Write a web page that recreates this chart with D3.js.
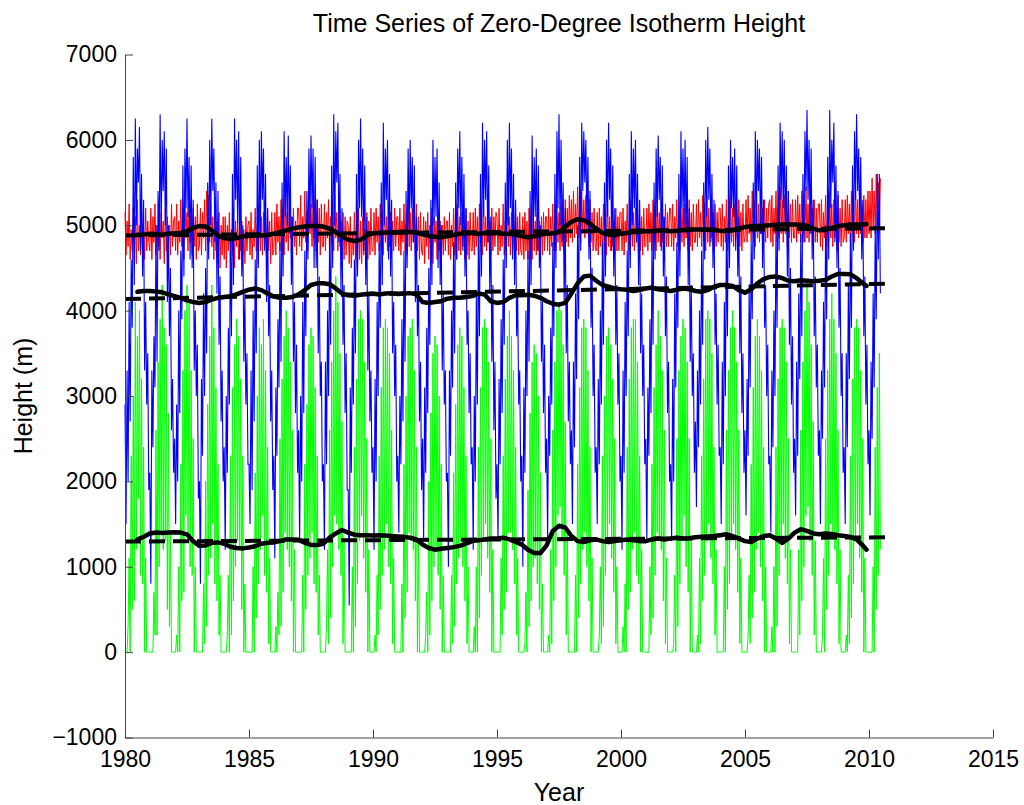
<!DOCTYPE html>
<html>
<head>
<meta charset="utf-8">
<script src="https://cdn.jsdelivr.net/npm/d3@7"></script>
<style>
	body { margin: 0; background: #fff; }
	svg { display: block; font-family: "Liberation Sans", Arial, Helvetica, sans-serif; }
</style>
</head>
<body>
<div id="chart"></div>
<script>
// ticks
const xTicks = [1980, 1985, 1990, 1995, 2000, 2005, 2010, 2015];
const yTicks = [-1000, 0, 1000, 2000, 3000, 4000, 5000, 6000, 7000];

// half-monthly heights (m), one row per year from 1980, last row ends mid 2010
const blueByYear = [
	[2900, 1500, 3300, 2000, 4100, 2700, 4600, 3800, 5800, 4300, 6250, 5000, 5900, 5500, 6150, 4700, 5600, 4400, 5300, 3300, 4100, 2900, 3500, 1900],
	[2100, 800, 3300, 2400, 3700, 3100, 5000, 3400, 5400, 4700, 6300, 4900, 6000, 5400, 6100, 5000, 5900, 4100, 5000, 3700, 4500, 2600, 3200, 2100],
	[2500, 1500, 2900, 2000, 4000, 2800, 4700, 3900, 5700, 4400, 5900, 5200, 6250, 5100, 5800, 4600, 5700, 4500, 5300, 3300, 4000, 3000, 3600, 1800],
	[2000, 800, 3200, 2300, 4200, 3000, 4500, 3500, 5500, 4600, 6000, 5000, 6250, 5400, 5900, 4800, 5500, 4200, 5400, 3600, 4400, 2700, 3300, 2000],
	[2400, 1200, 3000, 2100, 3800, 2900, 4900, 3700, 5600, 4300, 6250, 5300, 6000, 5000, 6100, 4600, 5800, 4400, 5000, 3400, 4200, 2900, 3500, 2200],
	[2200, 1500, 3300, 1900, 4000, 2700, 4600, 3500, 5700, 4500, 6000, 4900, 6100, 5300, 5900, 4700, 5600, 4100, 5200, 3700, 4300, 2700, 3300, 1900],
	[2300, 1100, 3100, 2300, 3900, 3100, 4800, 3400, 5500, 4400, 6100, 5100, 5800, 5000, 6050, 4900, 5700, 4300, 5100, 3400, 4100, 2800, 3600, 2100],
	[2600, 1300, 3000, 2000, 4100, 2800, 4700, 3700, 5400, 4600, 5900, 5000, 6050, 5200, 5900, 4500, 5800, 4500, 5300, 3500, 4400, 3000, 3400, 2000],
	[2200, 1200, 3400, 2200, 4000, 3000, 4900, 3600, 5700, 4500, 6300, 5000, 6100, 5500, 6200, 4800, 5600, 4200, 5200, 3600, 4300, 2800, 3500, 1900],
	[1900, 550, 3100, 2100, 3800, 2900, 4600, 3500, 5600, 4400, 6000, 5200, 6250, 5100, 5900, 4700, 5700, 4300, 5100, 3300, 4200, 2700, 3300, 2100],
	[2400, 1200, 3200, 2000, 4100, 3000, 4800, 3800, 5500, 4300, 6200, 5000, 5900, 5300, 6000, 4600, 5600, 4400, 5300, 3500, 4100, 3000, 3600, 2000],
	[2300, 1400, 3000, 2200, 3900, 2700, 4700, 3400, 5400, 4500, 5900, 4900, 6000, 5200, 5800, 4800, 5700, 4100, 5100, 3700, 4300, 2700, 3400, 1900],
	[2500, 1300, 3100, 2100, 3800, 2800, 4500, 3600, 5300, 4300, 6000, 5000, 5800, 5100, 5900, 4500, 5500, 4300, 5000, 3300, 4200, 2900, 3300, 2000],
	[2100, 1000, 3300, 2300, 4000, 3100, 4800, 3500, 5500, 4600, 5900, 5200, 6100, 5000, 5800, 4700, 5600, 4400, 5200, 3600, 4000, 2800, 3500, 2200],
	[2400, 1200, 3000, 2000, 4200, 2900, 4900, 3700, 5600, 4400, 6200, 5100, 6000, 5300, 6100, 4800, 5700, 4200, 5100, 3400, 4300, 2600, 3400, 1800],
	[2200, 1300, 3200, 2200, 3900, 2800, 4600, 3600, 5500, 4500, 6000, 5000, 6200, 5200, 5900, 4600, 5600, 4300, 5300, 3700, 4200, 2900, 3300, 2000],
	[2300, 1000, 3100, 2100, 4000, 3000, 4700, 3400, 5400, 4300, 6050, 4900, 5800, 5100, 5900, 4700, 5700, 4500, 5000, 3400, 4100, 2800, 3600, 2100],
	[2500, 1300, 3000, 2300, 3800, 2900, 4800, 3700, 5600, 4500, 6100, 5200, 6300, 5000, 6000, 4800, 5500, 4100, 5200, 3500, 4300, 2700, 3400, 2200],
	[2600, 1500, 3400, 2400, 4200, 3200, 5000, 3900, 5800, 4700, 6200, 5400, 6100, 5500, 6000, 5000, 5800, 4600, 5400, 3800, 4500, 3000, 3600, 2100],
	[2400, 1500, 3200, 2200, 4000, 2900, 4800, 3600, 5500, 4400, 6000, 5100, 6200, 5300, 5900, 4700, 5700, 4400, 5200, 3600, 4300, 2900, 3500, 2000],
	[2300, 1200, 3300, 2100, 4100, 3000, 4700, 3700, 5600, 4500, 6100, 5000, 5900, 5200, 6000, 4800, 5600, 4300, 5300, 3500, 4200, 3000, 3600, 2200],
	[2500, 1300, 3100, 2300, 3900, 2800, 4900, 3600, 5500, 4600, 5900, 5100, 6050, 5300, 5800, 4700, 5700, 4400, 5100, 3700, 4400, 2800, 3400, 2000],
	[2200, 1300, 3200, 2000, 4200, 3100, 4800, 3800, 5600, 4400, 6100, 5200, 5900, 5000, 6000, 4900, 5800, 4300, 5200, 3400, 4300, 3000, 3500, 2100],
	[2700, 1700, 3300, 2400, 4000, 2900, 4700, 3600, 5500, 4600, 6000, 5100, 6150, 5300, 5900, 4800, 5600, 4500, 5300, 3600, 4200, 2900, 3600, 2300],
	[2400, 1500, 3400, 2200, 4100, 3000, 4900, 3700, 5700, 4500, 6000, 5200, 5800, 5100, 5900, 4700, 5700, 4400, 5100, 3500, 4400, 2800, 3500, 2100],
	[2600, 1600, 3200, 2300, 4300, 3100, 4800, 3900, 5500, 4600, 6100, 5000, 6000, 5400, 5900, 4900, 5800, 4500, 5300, 3800, 4300, 3000, 3600, 2200],
	[2300, 1400, 3300, 2400, 4000, 3000, 5000, 3800, 5700, 4700, 6200, 5300, 6100, 5200, 6000, 5000, 5700, 4400, 5400, 3600, 4500, 2900, 3700, 2100],
	[2500, 1600, 3400, 2300, 4200, 3200, 4900, 3700, 5600, 4800, 6100, 5400, 6350, 5300, 6000, 4900, 5900, 4600, 5300, 3700, 4400, 3100, 3600, 2300],
	[2600, 1500, 3300, 2500, 4100, 3100, 5000, 3900, 5800, 4600, 6350, 5200, 6000, 5500, 6200, 4800, 5700, 4500, 5400, 3800, 4500, 3000, 3500, 2100],
	[2400, 1500, 3500, 2400, 4300, 3200, 4900, 3800, 5700, 4700, 6100, 5300, 6300, 5400, 5900, 5000, 5800, 4600, 5300, 3700, 4400, 2900, 3600, 2200],
	[2600, 1600, 3400, 2500, 4200, 3100, 5000, 3900, 5600, 4600, 5600, 4200]
];

const redByYear = [
	[5150, 4650, 5050, 4750, 5250, 4600, 4950, 4700, 5200, 4800, 5100, 4550, 5300, 4700, 5000, 4650, 5150, 4750, 4950, 4600, 5200, 4700, 5050, 4800],
	[4700, 5200, 4600, 5100, 4800, 5250, 4650, 5000, 4750, 5300, 4600, 5150, 4850, 5050, 4550, 5200, 4700, 5100, 4800, 5000, 4650, 5250, 4750, 5050],
	[5100, 4700, 5250, 4650, 5050, 4800, 5300, 4750, 5000, 4600, 5350, 4850, 5150, 4700, 5400, 4800, 5050, 4650, 5200, 4750, 5100, 4600, 5250, 4700],
	[4750, 5200, 4650, 5150, 4850, 5300, 4700, 5400, 4900, 5350, 4800, 5250, 4750, 5100, 4600, 5200, 4700, 5050, 4550, 5150, 4500, 5000, 4650, 5100],
	[4600, 5100, 4500, 5000, 4700, 5150, 4550, 4950, 4650, 5200, 4500, 5050, 4750, 5000, 4600, 5150, 4700, 5050, 4650, 4950, 4550, 5100, 4700, 5000],
	[5050, 4650, 5150, 4600, 4950, 4750, 5200, 4700, 5000, 4550, 5250, 4700, 5100, 4650, 5150, 4750, 4950, 4600, 5200, 4700, 5050, 4550, 5150, 4650],
	[4700, 5150, 4650, 5250, 4800, 5100, 4700, 5300, 4750, 5200, 4650, 5350, 4800, 5150, 4700, 5250, 4850, 5100, 4700, 5200, 4750, 5050, 4650, 5200],
	[5200, 4750, 5350, 4700, 5100, 4850, 5400, 4800, 5150, 4700, 5300, 4900, 5250, 4750, 5350, 4850, 5100, 4700, 5300, 4800, 5200, 4650, 5250, 4750],
	[4750, 5250, 4700, 5150, 4850, 5300, 4650, 5100, 4800, 5250, 4700, 5350, 4850, 5150, 4700, 5200, 4750, 5050, 4650, 5150, 4600, 5100, 4650, 5050],
	[5000, 4550, 5100, 4500, 4900, 4650, 5150, 4600, 4950, 4450, 5200, 4600, 5050, 4550, 5100, 4650, 4950, 4500, 5150, 4600, 5050, 4650, 5200, 4700],
	[4700, 5150, 4650, 5200, 4800, 5100, 4700, 5250, 4750, 5150, 4650, 5300, 4800, 5100, 4700, 5200, 4750, 5150, 4650, 5050, 4700, 5200, 4750, 5100],
	[5100, 4700, 5200, 4650, 5050, 4800, 5250, 4700, 5000, 4650, 5300, 4750, 5150, 4700, 5200, 4800, 5050, 4650, 5250, 4700, 5100, 4600, 5150, 4700],
	[4650, 5100, 4550, 5050, 4750, 5150, 4600, 5000, 4700, 5200, 4550, 5100, 4800, 5050, 4600, 5150, 4700, 5050, 4600, 5000, 4650, 5100, 4700, 5050],
	[5050, 4650, 5150, 4600, 5000, 4750, 5200, 4650, 5000, 4600, 5250, 4700, 5100, 4650, 5150, 4750, 5000, 4600, 5200, 4650, 5050, 4600, 5150, 4700],
	[4700, 5150, 4650, 5200, 4750, 5100, 4700, 5250, 4800, 5150, 4650, 5300, 4750, 5100, 4700, 5150, 4800, 5050, 4650, 5200, 4700, 5100, 4750, 5150],
	[5100, 4650, 5200, 4700, 5000, 4750, 5250, 4650, 5050, 4700, 5300, 4750, 5100, 4650, 5150, 4700, 5050, 4600, 5200, 4700, 5100, 4650, 5150, 4700],
	[4650, 5100, 4600, 5150, 4700, 5050, 4600, 5200, 4750, 5100, 4600, 5250, 4700, 5050, 4650, 5150, 4700, 5050, 4600, 5100, 4650, 5150, 4700, 5100],
	[5100, 4700, 5200, 4650, 5100, 4750, 5250, 4700, 5050, 4700, 5300, 4800, 5150, 4700, 5250, 4750, 5100, 4700, 5300, 4800, 5200, 4750, 5350, 4850],
	[5300, 4800, 5400, 4850, 5250, 4900, 5450, 4850, 5200, 4800, 5400, 4900, 5300, 4850, 5350, 4900, 5200, 4750, 5300, 4800, 5150, 4700, 5200, 4750],
	[4700, 5150, 4650, 5200, 4750, 5100, 4650, 5250, 4800, 5150, 4650, 5300, 4750, 5100, 4700, 5150, 4750, 5050, 4650, 5200, 4700, 5100, 4700, 5150],
	[5150, 4700, 5200, 4650, 5050, 4800, 5250, 4700, 5050, 4650, 5300, 4750, 5150, 4700, 5200, 4800, 5050, 4650, 5250, 4700, 5100, 4650, 5200, 4750],
	[4750, 5200, 4700, 5250, 4800, 5150, 4700, 5300, 4800, 5200, 4700, 5350, 4800, 5150, 4750, 5200, 4800, 5100, 4700, 5250, 4750, 5150, 4750, 5200],
	[5200, 4750, 5250, 4700, 5100, 4850, 5300, 4750, 5100, 4700, 5350, 4800, 5200, 4750, 5250, 4850, 5100, 4700, 5300, 4750, 5150, 4700, 5250, 4800],
	[4800, 5250, 4750, 5300, 4850, 5150, 4750, 5350, 4850, 5250, 4700, 5350, 4800, 5200, 4750, 5250, 4850, 5150, 4700, 5250, 4750, 5150, 4800, 5200],
	[5200, 4750, 5250, 4700, 5100, 4800, 5300, 4700, 5100, 4750, 5350, 4800, 5200, 4750, 5250, 4850, 5100, 4700, 5300, 4750, 5150, 4700, 5250, 4800],
	[4850, 5300, 4800, 5350, 4900, 5200, 4800, 5400, 4900, 5300, 4750, 5400, 4850, 5250, 4800, 5300, 4900, 5200, 4750, 5300, 4800, 5200, 4850, 5250],
	[5300, 4800, 5350, 4750, 5200, 4900, 5400, 4800, 5200, 4850, 5450, 4900, 5300, 4800, 5350, 4900, 5200, 4750, 5400, 4850, 5250, 4800, 5300, 4850],
	[4850, 5300, 4800, 5350, 4900, 5250, 4800, 5400, 4900, 5300, 4800, 5450, 4850, 5250, 4800, 5300, 4900, 5200, 4750, 5300, 4800, 5200, 4800, 5250],
	[5250, 4750, 5300, 4700, 5150, 4850, 5350, 4750, 5150, 4800, 5400, 4850, 5250, 4750, 5300, 4850, 5150, 4700, 5350, 4800, 5200, 4750, 5300, 4800],
	[4850, 5300, 4800, 5350, 4900, 5250, 4800, 5400, 4950, 5300, 4800, 5450, 4900, 5300, 4850, 5350, 4900, 5250, 4800, 5350, 4850, 5300, 4850, 5400],
	[4900, 5400, 4850, 5550, 4950, 5400, 4900, 5600, 5000, 5500, 4950, 5550]
];

const greenByYear = [
	[0, 0, 0, 300, 1100, 0, 2300, 500, 3000, 600, 4100, 1200, 3700, 1800, 4000, 900, 3200, 800, 2400, 0, 1100, 0, 0, 0],
	[0, 0, 0, 0, 700, 200, 2600, 200, 3400, 1000, 3900, 1400, 4300, 1200, 3800, 1300, 3600, 500, 2800, 300, 1400, 0, 0, 0],
	[0, 0, 200, 0, 1000, 0, 2200, 600, 3300, 700, 4000, 1600, 4300, 1300, 4100, 1000, 3300, 900, 2500, 0, 1000, 0, 0, 0],
	[0, 0, 0, 0, 800, 100, 2000, 300, 2900, 900, 3700, 1100, 4300, 1500, 3800, 800, 3100, 600, 2200, 200, 900, 0, 0, 0],
	[0, 0, 0, 200, 900, 0, 2300, 200, 3100, 600, 3600, 1000, 3900, 1300, 3700, 1200, 3200, 500, 2300, 0, 800, 0, 0, 0],
	[0, 0, 0, 0, 1000, 0, 2100, 400, 3000, 800, 3800, 1200, 3600, 1600, 3900, 900, 3300, 700, 2400, 100, 1100, 0, 0, 0],
	[0, 0, 300, 0, 700, 200, 2500, 300, 3200, 700, 3700, 1400, 4000, 1200, 3800, 1000, 3400, 600, 2600, 0, 1200, 0, 0, 0],
	[0, 0, 0, 0, 900, 0, 2200, 500, 2900, 900, 3600, 1100, 3800, 1400, 3700, 800, 3100, 700, 2300, 200, 900, 0, 0, 0],
	[0, 0, 0, 300, 1200, 100, 2600, 400, 3400, 1000, 4000, 1600, 4400, 1500, 4100, 1200, 3500, 900, 2700, 100, 1300, 0, 0, 0],
	[0, 0, 0, 0, 1000, 0, 2400, 300, 3200, 800, 3900, 1300, 4000, 1600, 3900, 1100, 3400, 700, 2500, 0, 1200, 0, 0, 0],
	[0, 0, 200, 0, 900, 200, 2300, 500, 3100, 900, 3800, 1200, 3900, 1500, 3800, 1000, 3500, 800, 2600, 100, 1100, 0, 0, 0],
	[0, 0, 0, 0, 800, 0, 2200, 400, 3000, 700, 3700, 1400, 3800, 1300, 3900, 1200, 3300, 600, 2400, 0, 1300, 0, 0, 0],
	[0, 0, 0, 200, 700, 0, 2000, 200, 2800, 600, 3500, 1000, 3700, 1200, 3600, 900, 3000, 500, 2200, 0, 900, 0, 0, 0],
	[0, 0, 0, 0, 900, 100, 2100, 300, 2900, 800, 3600, 1100, 3800, 1300, 3700, 1000, 3100, 600, 2300, 100, 1000, 0, 0, 0],
	[0, 0, 300, 0, 1000, 0, 2400, 400, 3100, 900, 3800, 1300, 3900, 1500, 3800, 1100, 3400, 700, 2500, 0, 1200, 0, 0, 0],
	[0, 0, 0, 0, 1100, 200, 2300, 500, 3200, 700, 3700, 1400, 4000, 1400, 3700, 1200, 3300, 800, 2400, 200, 1100, 0, 0, 0],
	[0, 0, 0, 100, 700, 0, 1900, 300, 2800, 600, 3400, 1000, 3600, 1100, 3500, 800, 3000, 500, 2100, 0, 800, 0, 0, 0],
	[0, 0, 200, 0, 1200, 100, 2600, 600, 3400, 1000, 4000, 1600, 4100, 1700, 4000, 1300, 3600, 900, 2700, 200, 1400, 0, 0, 0],
	[0, 0, 0, 0, 900, 0, 2200, 400, 3100, 800, 3800, 1200, 3900, 1400, 3800, 1000, 3300, 600, 2400, 0, 1100, 0, 0, 0],
	[0, 0, 0, 200, 1000, 100, 2300, 300, 3000, 900, 3700, 1300, 3800, 1500, 3600, 1100, 3200, 700, 2500, 100, 1000, 0, 0, 0],
	[0, 0, 300, 0, 800, 0, 2400, 500, 3200, 700, 3800, 1200, 3900, 1400, 3900, 900, 3400, 800, 2300, 0, 1200, 0, 0, 0],
	[0, 0, 0, 0, 1000, 200, 2200, 400, 3100, 900, 3600, 1400, 4000, 1300, 3700, 1200, 3300, 600, 2600, 100, 1100, 0, 0, 0],
	[0, 0, 0, 100, 900, 0, 2500, 300, 3300, 800, 3700, 1300, 3900, 1600, 3800, 1000, 3400, 700, 2500, 0, 1300, 0, 0, 0],
	[0, 0, 200, 0, 1100, 100, 2300, 600, 3200, 900, 3900, 1300, 4000, 1500, 3900, 1100, 3500, 800, 2400, 200, 1200, 0, 0, 0],
	[0, 0, 0, 0, 1000, 0, 2600, 500, 3300, 800, 3800, 1400, 4000, 1500, 3800, 1200, 3400, 700, 2600, 100, 1100, 0, 0, 0],
	[0, 0, 0, 200, 900, 100, 2200, 400, 3100, 700, 3700, 1200, 3900, 1400, 3700, 1000, 3300, 600, 2400, 0, 1000, 0, 0, 0],
	[0, 0, 300, 0, 1000, 0, 2400, 300, 3200, 900, 3800, 1300, 3900, 1500, 3800, 1100, 3400, 800, 2500, 100, 1200, 0, 0, 0],
	[0, 0, 0, 0, 1200, 200, 2600, 600, 3400, 1000, 4000, 1600, 4300, 1700, 4100, 1300, 3600, 900, 2700, 200, 1300, 0, 0, 0],
	[0, 0, 0, 200, 1100, 0, 2500, 500, 3300, 900, 3900, 1500, 4200, 1400, 3900, 1200, 3500, 800, 2600, 100, 1200, 0, 0, 0],
	[0, 0, 200, 0, 900, 100, 2300, 400, 3200, 800, 3800, 1300, 3900, 1500, 3800, 1100, 3300, 700, 2500, 0, 1100, 0, 0, 0],
	[0, 0, 0, 0, 1000, 0, 2400, 500, 3100, 900, 3500, 1200]
];

// running means (thick black), quarterly from 1980.5, last point 2009.9
const upperMeanByYear = [
	[4890, 4890],
	[4900, 4895, 4890, 4900], [4905, 4910, 4930, 4970], [4990, 4985, 4940, 4880],
	[4850, 4835, 4850, 4870], [4875, 4880, 4880, 4885], [4900, 4920, 4940, 4960],
	[4975, 4985, 4990, 4990], [4985, 4960, 4920, 4870], [4830, 4815, 4830, 4880],
	[4905, 4910, 4915, 4915], [4920, 4925, 4920, 4915], [4895, 4875, 4865, 4860],
	[4870, 4885, 4900, 4905], [4905, 4900, 4905, 4905], [4905, 4900, 4900, 4890],
	[4870, 4860, 4870, 4890], [4900, 4905, 4920, 4980], [5040, 5070, 5060, 5020],
	[4960, 4910, 4890, 4885], [4900, 4910, 4920, 4925], [4930, 4930, 4935, 4935],
	[4930, 4935, 4945, 4950], [4950, 4950, 4950, 4945], [4935, 4930, 4940, 4960],
	[4980, 4990, 4990, 4995], [5000, 5005, 5010, 5010], [5010, 5005, 4995, 4960],
	[4940, 4945, 4970, 4990], [5000, 5010, 5010, 5010, 5015]
];
const middleMeanByYear = [
	[4220, 4230],
	[4230, 4225, 4215, 4190], [4170, 4150, 4120, 4100], [4090, 4100, 4130, 4150],
	[4160, 4170, 4190, 4220], [4245, 4260, 4240, 4200], [4165, 4150, 4150, 4160],
	[4190, 4240, 4300, 4320], [4320, 4310, 4260, 4200], [4180, 4175, 4185, 4195],
	[4200, 4190, 4200, 4205], [4195, 4200, 4205, 4190], [4100, 4090, 4100, 4110],
	[4140, 4150, 4150, 4160], [4170, 4200, 4190, 4110], [4090, 4100, 4150, 4180],
	[4180, 4185, 4175, 4150], [4110, 4080, 4070, 4090], [4200, 4320, 4400, 4410],
	[4350, 4300, 4280, 4260], [4250, 4245, 4230, 4240], [4260, 4270, 4250, 4240],
	[4230, 4245, 4260, 4250], [4230, 4220, 4240, 4280], [4300, 4300, 4290, 4240],
	[4210, 4250, 4320, 4370], [4395, 4400, 4380, 4350], [4345, 4355, 4350, 4345],
	[4350, 4360, 4400, 4430], [4430, 4425, 4380, 4320, 4290]
];
const lowerMeanByYear = [
	[1320, 1350],
	[1390, 1400, 1395, 1400], [1405, 1400, 1380, 1300], [1245, 1250, 1280, 1285],
	[1270, 1235, 1220, 1215], [1225, 1240, 1270, 1280], [1285, 1300, 1320, 1320],
	[1315, 1280, 1255, 1255], [1270, 1340, 1390, 1430], [1400, 1375, 1370, 1370],
	[1365, 1370, 1365, 1360], [1355, 1350, 1340, 1320], [1260, 1220, 1200, 1210],
	[1220, 1230, 1245, 1270], [1300, 1310, 1320, 1330], [1330, 1340, 1320, 1290],
	[1260, 1200, 1160, 1160], [1250, 1420, 1480, 1460], [1360, 1300, 1290, 1310],
	[1320, 1300, 1290, 1300], [1310, 1320, 1310, 1300], [1300, 1320, 1330, 1320],
	[1330, 1340, 1330, 1335], [1345, 1350, 1355, 1360], [1370, 1380, 1360, 1330],
	[1300, 1290, 1330, 1360], [1370, 1330, 1280, 1330], [1400, 1440, 1420, 1390],
	[1380, 1390, 1385, 1370], [1360, 1350, 1320, 1250, 1200]
];

// linear trends (dashed)
const trendYears = [1980, 2010.75];
const upperTrend = [4880, 4965];
const middleTrend = [4135, 4315];
const lowerTrend = [1295, 1345];

// [year, value] pairs, each row starting on Jan 1 of its year
function byYearPoints(rows, perYear) {
	return rows.flatMap((row, r) => row.map((v, j) => [1980 + r + j / perYear, v]));
}

const bluePts = byYearPoints(blueByYear, 24);
const redPts = byYearPoints(redByYear, 24);
const greenPts = byYearPoints(greenByYear, 24);

const meanYears = d3.range(1980.5, 2009.76, 0.25).concat([2009.9]);
const pairUp = (ys, xs) => xs.map((t, i) => [t, ys[i]]);

const width = 1024;
const height = 805;
const margin = {top: 54.5, right: 31, bottom: 67.5, left: 125};

const x = d3.scaleLinear().domain([1980, 2015]).range([margin.left, width - margin.right]);
const y = d3.scaleLinear().domain([-1000, 7000]).range([height - margin.bottom, margin.top]);

const svg = d3.select('#chart').append('svg')
	.attr('width', width)
	.attr('height', height);

const seriesLine = d3.line()
	.x(d => x(d[0]))
	.y(d => y(d[1]));

function drawSeries(points, color, w) {
	svg.append('path')
		.datum(points)
		.attr('fill', 'none')
		.attr('stroke', color)
		.attr('stroke-width', w)
		.attr('d', seriesLine);
}

drawSeries(redPts, '#ff0000', 1);
drawSeries(greenPts, '#00ff00', 1);
drawSeries(bluePts, '#0000ff', 1.1);

for (const trend of [upperTrend, middleTrend, lowerTrend]) {
	svg.append('path')
		.datum(pairUp(trend, trendYears))
		.attr('fill', 'none')
		.attr('stroke', '#000')
		.attr('stroke-width', 4)
		.attr('stroke-dasharray', '16,8')
		.attr('d', seriesLine);
}

for (const rows of [upperMeanByYear, middleMeanByYear, lowerMeanByYear]) {
	svg.append('path')
		.datum(pairUp(rows.flat(), meanYears))
		.attr('fill', 'none')
		.attr('stroke', '#000')
		.attr('stroke-width', 4.5)
		.attr('stroke-linejoin', 'round')
		.attr('stroke-linecap', 'round')
		.attr('d', seriesLine);
}

// axes, MATLAB style: box off, ticks pointing inward
const xAxis = svg.append('g')
	.attr('transform', `translate(0,${height - margin.bottom})`)
	.call(d3.axisBottom(x).tickValues(xTicks).tickFormat(d3.format('d'))
		.tickSize(-8).tickSizeOuter(0).tickPadding(13));

const yAxis = svg.append('g')
	.attr('transform', `translate(${margin.left},0)`)
	.call(d3.axisLeft(y).tickValues(yTicks).tickFormat(d3.format('d'))
		.tickSize(-8).tickSizeOuter(0).tickPadding(8));

for (const axis of [xAxis, yAxis]) {
	axis.attr('font-family', null).attr('font-size', null);
	axis.select('.domain').attr('stroke', '#444');
	axis.selectAll('.tick line').attr('stroke', '#444');
	axis.selectAll('.tick text').attr('fill', '#000').style('font-size', '23px');
}

svg.append('text')
	.attr('x', (margin.left + width - margin.right) / 2)
	.attr('y', 32)
	.attr('text-anchor', 'middle')
	.style('font-size', '25px')
	.text('Time Series of Zero-Degree Isotherm Height');

svg.append('text')
	.attr('x', (margin.left + width - margin.right) / 2)
	.attr('y', 801)
	.attr('text-anchor', 'middle')
	.style('font-size', '25px')
	.text('Year');

svg.append('text')
	.attr('transform', `translate(32,${(margin.top + height - margin.bottom) / 2}) rotate(-90)`)
	.attr('text-anchor', 'middle')
	.style('font-size', '25px')
	.text('Height (m)');
</script>
</body>
</html>
